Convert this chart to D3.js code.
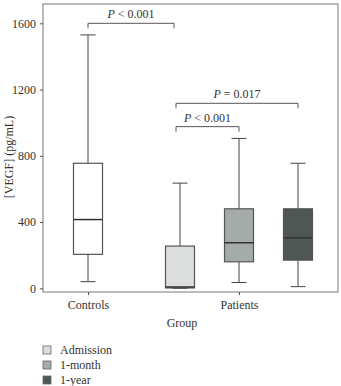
<!DOCTYPE html>
<html>
<head>
<meta charset="utf-8">
<script src="https://cdn.jsdelivr.net/npm/d3@7"></script>
<style>
  body { margin: 0; background: #fff; }
  svg text { font-family: "Liberation Serif", "DejaVu Serif", serif; fill: #333; }
</style>
</head>
<body>
<div class="graph"></div>
<script>
// data
var groups = ["Controls", "Patients"];
var series = ["Admission", "1-month", "1-year"];
var seriesColors = ["#dcdedd", "#a3aca8", "#4f5755"];
var yTicks = [0, 400, 800, 1200, 1600];

// box stats: [min, q1, median, q3, max]
var controlsBox = [40, 205, 415, 755, 1530];
var admissionBox = [0, 2, 8, 255, 635];
var monthBox = [35, 160, 275, 480, 905];
var yearBox = [10, 170, 305, 480, 755];

// brackets: [from, to, yValue, label]
var brackets = [
  ["Controls", "Admission", 1600, "< 0.001"],
  ["Admission", "1-year", 1117, "= 0.017"],
  ["Admission", "1-month", 976, "< 0.001"]
];

var margin = {top: 4, right: 3, bottom: 94, left: 43},
    width = 341 - margin.left - margin.right,
    height = 386 - margin.top - margin.bottom;

var svg = d3.select("div.graph").append("svg")
    .attr("width", 341)
    .attr("height", 386)
  .append("g")
    .attr("transform", "translate(" + margin.left + "," + margin.top + ")");

// set the ranges
var y = d3.scaleLinear().domain([0, 1600]).range([284.3, 19.3]);
var x = d3.scalePoint().domain(groups).range([45, 196]);
var sub = d3.scalePoint().domain(series).range([-59, 59]);

var boxes = [
  {name: "Controls", stats: controlsBox, fill: "#fff", cx: x("Controls")},
  {name: "Admission", stats: admissionBox, fill: seriesColors[0], cx: x("Patients") + sub("Admission")},
  {name: "1-month", stats: monthBox, fill: seriesColors[1], cx: x("Patients") + sub("1-month")},
  {name: "1-year", stats: yearBox, fill: seriesColors[2], cx: x("Patients") + sub("1-year")}
];
var centerOf = {};
boxes.forEach(function(b) { centerOf[b.name] = b.cx; });

var boxW = 29, capW = 15;

// frame
svg.append("rect")
    .attr("width", width).attr("height", height)
    .attr("fill", "none").attr("stroke", "#777").attr("stroke-width", 1);

// y axis
var yAxis = svg.append("g")
    .call(d3.axisLeft(y).tickValues(yTicks).tickFormat(d3.format("d")).tickSize(3).tickPadding(4));
yAxis.select(".domain").remove();
yAxis.selectAll("line").attr("stroke", "#555");
yAxis.selectAll("text").style("font-size", "12px").attr("fill", "#333");

// x axis
var xAxis = svg.append("g")
    .attr("transform", "translate(0," + height + ")")
    .call(d3.axisBottom(x).tickSize(3).tickPadding(5));
xAxis.select(".domain").remove();
xAxis.selectAll("line").attr("stroke", "#555");
xAxis.selectAll("text").style("font-size", "12px").attr("fill", "#333");

// whiskers
var g = svg.selectAll("g.box").data(boxes).enter().append("g").attr("class", "box");

g.append("line")
    .attr("x1", function(d) { return d.cx; })
    .attr("x2", function(d) { return d.cx; })
    .attr("y1", function(d) { return y(d.stats[0]); })
    .attr("y2", function(d) { return y(d.stats[4]); })
    .attr("stroke", "#444").attr("stroke-width", 1);

g.selectAll("line.cap")
    .data(function(d) { return [[d.cx, d.stats[0]], [d.cx, d.stats[4]]]; })
    .enter().append("line").attr("class", "cap")
    .attr("x1", function(p) { return p[0] - capW / 2; })
    .attr("x2", function(p) { return p[0] + capW / 2; })
    .attr("y1", function(p) { return y(p[1]); })
    .attr("y2", function(p) { return y(p[1]); })
    .attr("stroke", "#444").attr("stroke-width", 1);

// boxes
g.append("rect")
    .attr("x", function(d) { return d.cx - boxW / 2; })
    .attr("width", boxW)
    .attr("y", function(d) { return y(d.stats[3]); })
    .attr("height", function(d) { return y(d.stats[1]) - y(d.stats[3]); })
    .attr("fill", function(d) { return d.fill; })
    .attr("stroke", "#555").attr("stroke-width", 1.2);

// medians
g.append("line")
    .attr("x1", function(d) { return d.cx - boxW / 2; })
    .attr("x2", function(d) { return d.cx + boxW / 2; })
    .attr("y1", function(d) { return y(d.stats[2]); })
    .attr("y2", function(d) { return y(d.stats[2]); })
    .attr("stroke", "#333").attr("stroke-width", 1.5);

// significance brackets
brackets.forEach(function(b) {
  var x1 = centerOf[b[0]], x2 = centerOf[b[1]], yy = y(b[2]);
  if (b[0] === "Controls") { x2 = x2 - 6; }
  else { x1 = x1 - 4; }
  svg.append("path")
      .attr("d", "M" + x1 + "," + (yy + 5) + "V" + yy + "H" + x2 + "V" + (yy + 5))
      .attr("fill", "none").attr("stroke", "#555").attr("stroke-width", 1);
  var t = svg.append("text")
      .attr("x", (x1 + x2) / 2)
      .attr("y", yy - 5)
      .attr("text-anchor", "middle")
      .style("font-size", "12px");
  t.append("tspan").style("font-style", "italic").text("P");
  t.append("tspan").text(" " + b[3]);
});

// axis titles
svg.append("text")
    .attr("x", 139)
    .attr("y", height + 35)
    .attr("text-anchor", "middle")
    .style("font-size", "12px")
    .text("Group");

svg.append("text")
    .attr("transform", "translate(" + (-30) + "," + 153 + ") rotate(-90)")
    .attr("text-anchor", "middle")
    .style("font-size", "12px")
    .text("[VEGF] (pg/mL)");

// legend
var legend = svg.selectAll("g.legend").data(series).enter().append("g")
    .attr("class", "legend")
    .attr("transform", function(d, i) { return "translate(0," + (342 + i * 15) + ")"; });

legend.append("rect")
    .attr("x", 0).attr("y", 0).attr("width", 8).attr("height", 8)
    .attr("fill", function(d, i) { return seriesColors[i]; })
    .attr("stroke", "#666").attr("stroke-width", 0.8);

legend.append("text")
    .attr("x", 17).attr("y", 8)
    .style("font-size", "12px")
    .text(function(d) { return d; });
</script>
</body>
</html>
